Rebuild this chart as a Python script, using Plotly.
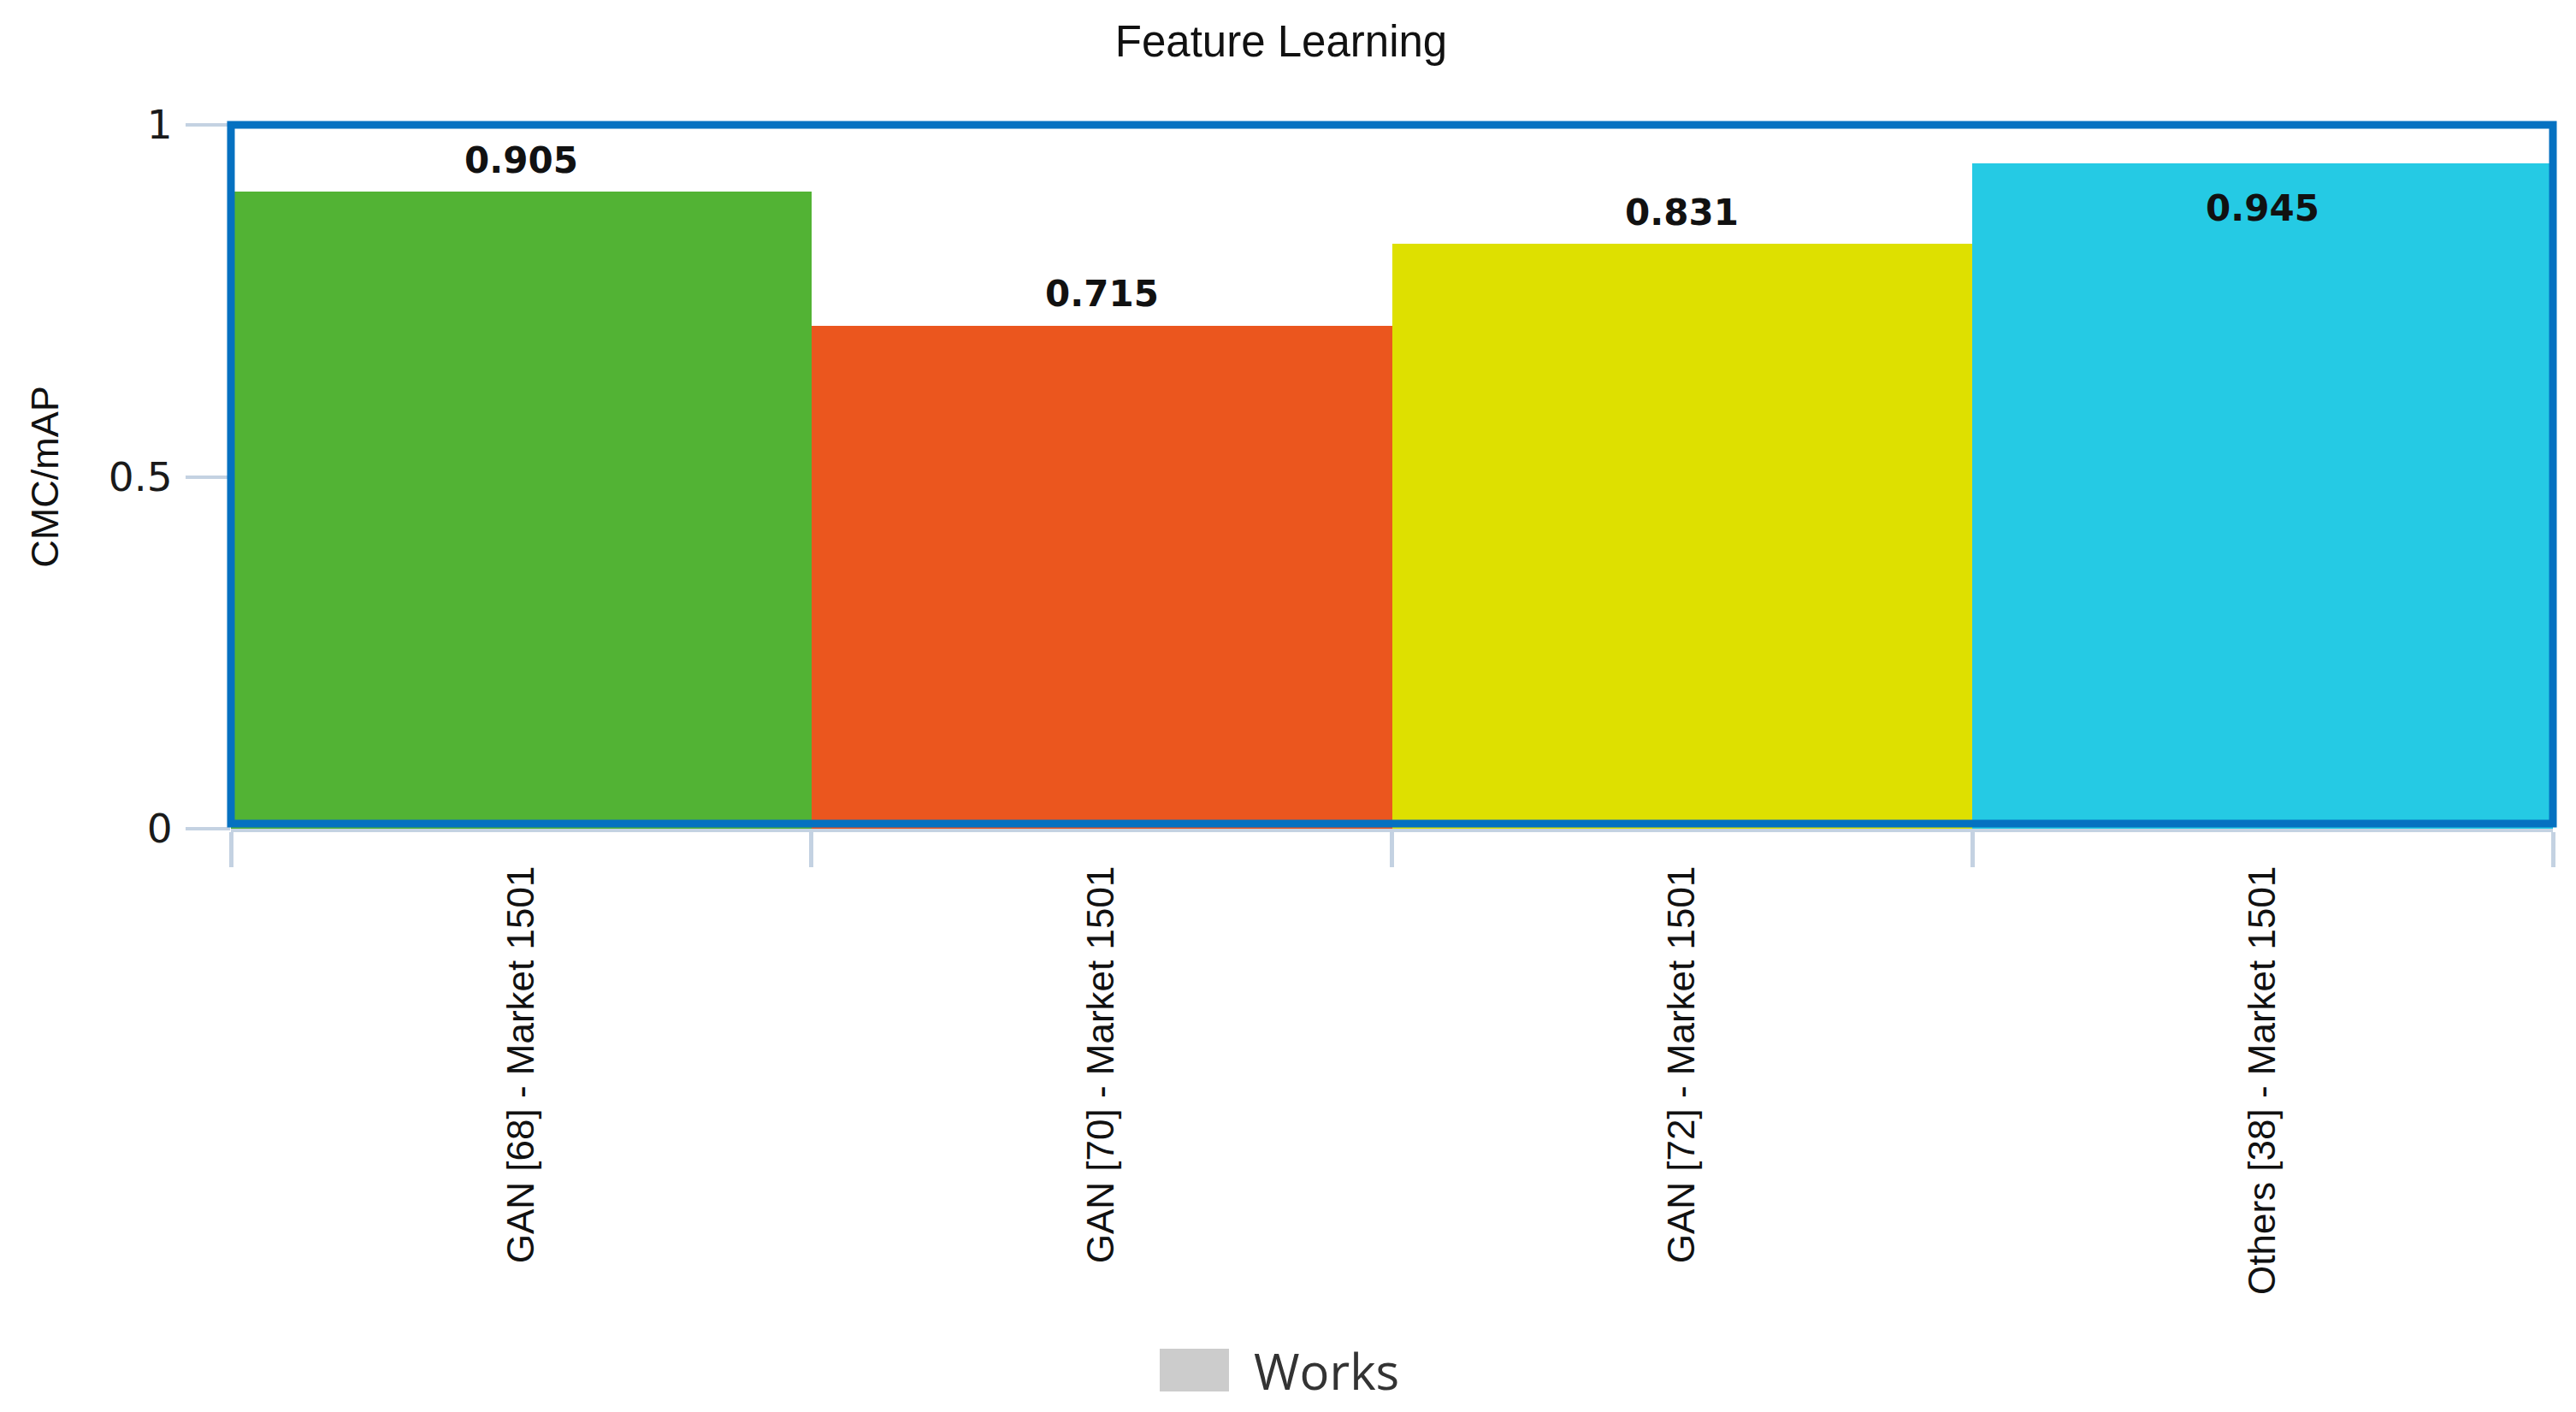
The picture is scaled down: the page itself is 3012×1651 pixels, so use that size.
import plotly.graph_objects as go

# ── Data ──
works = ["GAN [68] - Market 1501", "GAN [70] - Market 1501",
         "GAN [72] - Market 1501", "Others [38] - Market 1501"]
scores = [0.905, 0.715, 0.831, 0.945]
bar_colors = ["#52B334", "#EB561E", "#DEE000", "#25CAE4"]
y_ticks = [0, 0.5, 1]

# page is 3012x1651; the body has an 8px margin, so the figure is shrunk by it
OFF = 8
FW, FH = 3012 - 2 * OFF, 1651 - 2 * OFF
# plot area in page pixels
PX0, PX1, PY0, PY1 = 270, 2985, 146, 969
L, R = PX0 - OFF, FW - (PX1 - OFF)
T, B = PY0 - OFF, FH - (PY1 - OFF)

def px_x(x):  # page px -> paper x
    return (x - PX0) / (PX1 - PX0)

def px_y(y):  # page px -> paper y
    return (PY1 - y) / (PY1 - PY0)

AXIS_GREY = "#C4D2E2"

fig = go.Figure()
fig.add_trace(go.Bar(
    x=works, y=scores,
    name="Works",
    marker=dict(color=bar_colors, line=dict(width=0)),
    showlegend=False,
    hoverinfo="x+y",
))

# value labels (last one sits inside the bar, no room above)
label_notes = []
for w, v in zip(works, scores):
    inside = v > 0.93
    label_notes.append(dict(
        x=w, y=v, xref="x", yref="y",
        text=f"{v:.3f}", showarrow=False,
        yanchor="middle", yshift=-52 if inside else 37,
        font=dict(family="DejaVu Sans", size=42, color="#111111", weight="bold"),
    ))

fig.update_layout(
    width=FW, height=FH,
    margin=dict(l=L, r=R, t=T, b=B, pad=0, autoexpand=False),
    paper_bgcolor="white", plot_bgcolor="white",
    bargap=0,
    title=dict(
        text="Feature Learning",
        x=(1498 - OFF) / FW, xref="container", xanchor="center",
        y=1 - (48 - OFF) / FH, yref="container", yanchor="middle",
        font=dict(family="Liberation Sans, Arial", size=51, color="#111111"),
    ),
    xaxis=dict(
        type="category",
        showline=True, linecolor=AXIS_GREY, linewidth=4,
        ticks="outside", ticklen=41, tickwidth=5, tickcolor=AXIS_GREY,
        tickson="boundaries",
        tickangle=-90, ticklabelstandoff=22,
        tickfont=dict(family="Liberation Sans, Arial", size=44, color="#111111"),
        showgrid=False, zeroline=False,
    ),
    yaxis=dict(
        range=[0, 1], tickvals=y_ticks, ticktext=["0", "0.5", "1"],
        showline=False, showgrid=False, zeroline=False,
        ticks="outside", ticklen=52, tickwidth=4, tickcolor=AXIS_GREY,
        ticklabelstandoff=6,
        tickfont=dict(family="DejaVu Sans", size=47, color="#1A1A1A"),
        title=dict(text="CMC/mAP", standoff=44,
                   font=dict(family="Liberation Sans, Arial", size=45, color="#111111")),
    ),
    shapes=[
        # blue frame round the plot area (bottom edge sits just above the grey axis line)
        dict(type="rect", xref="paper", yref="paper",
             x0=0, x1=1, y0=px_y(963), y1=1,
             line=dict(color="#0571C1", width=9), layer="above"),
        # legend swatch
        dict(type="rect", xref="paper", yref="paper",
             x0=px_x(1356), x1=px_x(1437), y0=px_y(1627), y1=px_y(1577),
             fillcolor="#CCCCCC", line=dict(width=0)),
    ],
    annotations=label_notes + [
        dict(text="Works", xref="paper", yref="paper",
             x=px_x(1464), y=px_y(1602), xanchor="left", yanchor="middle",
             showarrow=False,
             font=dict(family="Open Sans", size=58, color="#333333")),
    ],
)

fig.write_html("out.html")
